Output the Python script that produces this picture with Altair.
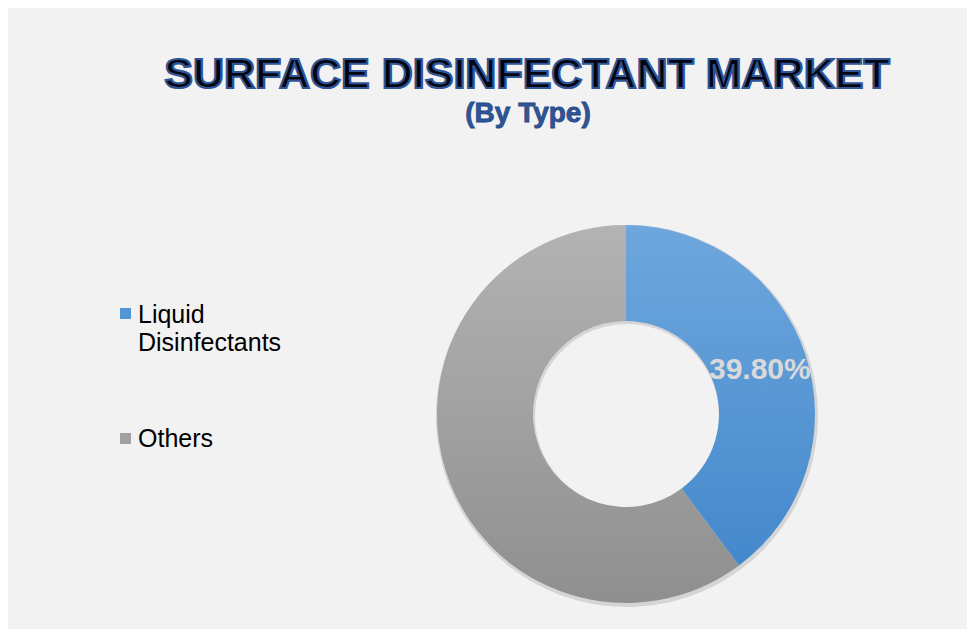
import altair as alt
import pandas as pd
import math

# ---- data ----
categories = ["Liquid Disinfectants", "Others"]
shares = [39.8, 60.2]
order_idx = [0, 1]
label_text = ["39.80%", ""]

title_text = ["SURFACE DISINFECTANT MARKET"]
subtitle_text = ["(By Type)"]

df = pd.DataFrame({"cat": categories, "share": shares, "idx": order_idx, "lbl": label_text})

W, H = 959, 621
CX, CY = 618, 406
R_OUT, R_IN = 189, 93
BG = "#f2f2f2"

base = alt.Chart(df).transform_joinaggregate(
    total="sum(share)"
).transform_window(
    cum="sum(share)", sort=[alt.SortField("idx")], frame=[None, 0]
).transform_calculate(
    end="datum.cum / datum.total",
    start="(datum.cum - datum.share) / datum.total",
)

theta_scale = alt.Scale(domain=[0, 1], range=[0, 2 * math.pi])

def grad(c1, c2):
    return alt.LinearGradient(
        gradient="linear",
        stops=[alt.GradientStop(offset=0, color=c1), alt.GradientStop(offset=1, color=c2)],
        x1=0, x2=0, y1=0, y2=1,
    )

# soft shadow ring
shadow = base.mark_arc(radius=R_OUT + 2, radius2=R_IN - 1, color="#7f7f7f", opacity=0.25).encode(
    theta=alt.Theta("start:Q", scale=theta_scale),
    theta2="end:Q",
    x=alt.value(CX + 1), y=alt.value(CY + 2),
)

arc_liquid = base.transform_filter(alt.datum.idx == 0).mark_arc(
    radius=R_OUT, radius2=R_IN, color=grad("#6ea7dd", "#4488cc")
).encode(
    theta=alt.Theta("start:Q", scale=theta_scale),
    theta2="end:Q",
    x=alt.value(CX), y=alt.value(CY),
)

arc_others = base.transform_filter(alt.datum.idx == 1).mark_arc(
    radius=R_OUT, radius2=R_IN, color=grad("#b3b3b3", "#8f8f8f")
).encode(
    theta=alt.Theta("start:Q", scale=theta_scale),
    theta2="end:Q",
    x=alt.value(CX), y=alt.value(CY),
)

labels = base.transform_calculate(
    mid="(datum.start + datum.end) / 2"
).mark_text(
    radius=141, font="Liberation Sans", fontSize=30, fontWeight="bold",
    color="#d9d9d9", align="center", baseline="middle"
).encode(
    theta=alt.Theta("mid:Q", scale=theta_scale),
    text="lbl:N",
    x=alt.value(CX), y=alt.value(CY),
)

# legend (manual, from categories)
leg_y = alt.Y("cat:N", scale=alt.Scale(type="point", padding=0, domain=categories, range=[305.5, 430.5]), axis=None)
leg_sq = alt.Chart(df).mark_square(size=121, opacity=1).encode(
    x=alt.value(117.5),
    y=leg_y,
    color=alt.Color("cat:N", scale=alt.Scale(domain=categories, range=["#5296d6", "#a0a0a0"]), legend=None),
)
leg_txt_y = alt.Y("cat:N", scale=alt.Scale(type="point", padding=0, domain=categories, range=[314.5, 439]), axis=None)
leg_txt = alt.Chart(df).mark_text(
    align="left", baseline="alphabetic", font="Liberation Sans", fontSize=25,
    color="#000000", lineBreak=" ", lineHeight=28
).encode(
    x=alt.value(130),
    y=leg_txt_y,
    text="cat:N",
)

# title and subtitle as text marks
tdf = pd.DataFrame({"t": title_text})
sdf = pd.DataFrame({"t": subtitle_text})
title = alt.Chart(tdf).mark_text(
    font="Liberation Sans", fontSize=43, fontWeight="bold", fill="#05050f",
    stroke="#2f5597", strokeWidth=2.2, align="center", baseline="alphabetic"
).encode(x=alt.value(519), y=alt.value(80), text="t:N")
subtitle = alt.Chart(sdf).mark_text(
    font="Liberation Sans", fontSize=28, fontWeight="bold", fill="#2f5597",
    stroke="#254a85", strokeWidth=0.8, align="center", baseline="alphabetic"
).encode(x=alt.value(520), y=alt.value(114), text="t:N")

chart = alt.layer(
    shadow, arc_others, arc_liquid, labels, leg_sq, leg_txt, title, subtitle
).resolve_scale(y="independent", color="independent").properties(
    width=W, height=H, background=BG, padding=0,
    autosize=alt.AutoSizeParams(type="none"),
).configure_view(stroke=None)

chart.save("out.html", embed_options={"renderer": "svg", "actions": False})
